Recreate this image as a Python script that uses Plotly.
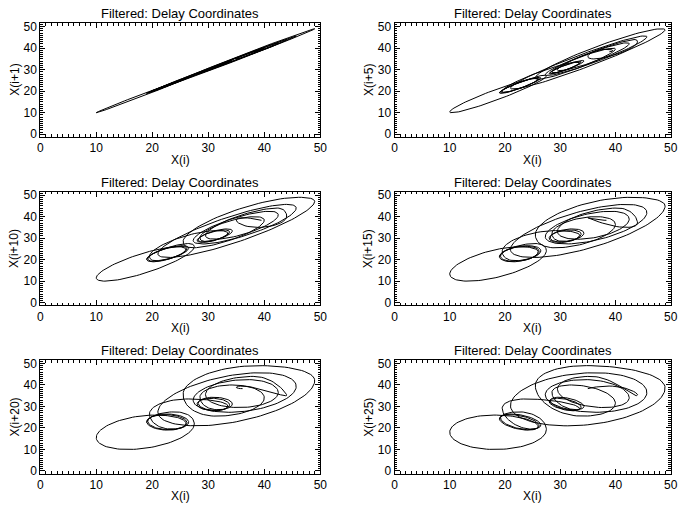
import numpy as np
import plotly.graph_objects as go

# Turning points (sample index, value) of the filtered series x(i), read from the loops
turn_t = [0, 45, 97, 147, 185, 223, 261, 299, 337, 377, 413, 451, 489, 527, 565, 605,
          650, 694, 754, 813, 863, 911, 953, 998, 1020, 1035, 1045]
turn_v = [19.0, 27.5, 10.0, 26.0, 19.0, 26.2, 19.2, 26.5, 19.5, 33.5, 28.0, 33.8, 28.2,
          34.3, 28.5, 40.0, 25.5, 49.0, 21.0, 45.7, 27.3, 42.5, 29.5, 44.0, 35.0, 39.5,
          38.3]

lags = [1, 5, 10, 15, 20, 25]
y_titles = ["X(i+1)", "X(i+5)", "X(i+10)", "X(i+15)", "X(i+20)", "X(i+25)"]
x_title = "X(i)"
panel_title = "Filtered: Delay Coordinates"
x_ticks = [0, 10, 20, 30, 40, 50]

# smooth series built from turning points (half-cosine swings)
n = turn_t[-1] + 1
series = np.empty(n)
for k in range(len(turn_t) - 1):
    t0, t1 = turn_t[k], turn_t[k + 1]
    v0, v1 = turn_v[k], turn_v[k + 1]
    s = (np.arange(t0, t1 + 1) - t0) / (t1 - t0)
    series[t0:t1 + 1] = v0 + (v1 - v0) * (1 - np.cos(np.pi * s)) / 2

W, H = 686, 513
col_px = [(37.8, 322.0), (397.3, 677.5)]
row_px = [(20.5, 136.0), (191.7, 307.0), (362.7, 478.0)]

fig = go.Figure()
font = dict(family="Liberation Sans, Arial, sans-serif", size=12, color="black")
annotations = []
for p, lag in enumerate(lags):
    r, c = divmod(p, 2)
    xa = "xaxis" if p == 0 else f"xaxis{p+1}"
    ya = "yaxis" if p == 0 else f"yaxis{p+1}"
    xr = "x" if p == 0 else f"x{p+1}"
    yr = "y" if p == 0 else f"y{p+1}"
    fig.add_trace(go.Scatter(x=series[:-lag], y=series[lag:], mode="lines",
                             line=dict(color="black", width=1), xaxis=xr, yaxis=yr,
                             showlegend=False, hoverinfo="skip"))
    xd = [col_px[c][0] / W, col_px[c][1] / W]
    yd = [1 - row_px[r][1] / H, 1 - row_px[r][0] / H]
    common = dict(showline=True, linecolor="black", linewidth=1, mirror="allticks",
                  ticks="inside", ticklen=5, tickwidth=1, tickcolor="black",
                  showgrid=False, zeroline=False, tickfont=font,
                  minor=dict(ticks="inside", dtick=1, ticklen=2.5, tickwidth=1,
                             tickcolor="black", showgrid=False))
    fig.layout[xa] = dict(domain=xd, range=[0, 50], tickvals=x_ticks, anchor=yr, **common)
    fig.layout[ya] = dict(domain=yd, range=[-1.2, 51.6], tickvals=x_ticks, anchor=xr, **common)
    cx = (col_px[c][0] + col_px[c][1]) / 2 / W
    annotations.append(dict(text=panel_title, x=cx, y=1 - (row_px[r][0] - 9.5) / H,
                            xref="paper", yref="paper", showarrow=False,
                            font=dict(family=font["family"], size=13, color="black"),
                            xanchor="center", yanchor="middle"))
    annotations.append(dict(text=x_title, x=cx, y=1 - (row_px[r][1] + 23) / H,
                            xref="paper", yref="paper", showarrow=False, font=font,
                            xanchor="center", yanchor="middle"))
    annotations.append(dict(text=y_titles[p], x=(col_px[c][0] - 26) / W,
                            y=1 - (row_px[r][0] + row_px[r][1]) / 2 / H,
                            xref="paper", yref="paper", showarrow=False, font=font,
                            textangle=-90, xanchor="center", yanchor="middle"))

fig.update_layout(width=W, height=H, margin=dict(l=0, r=0, t=0, b=0),
                  paper_bgcolor="white", plot_bgcolor="white",
                  annotations=annotations, showlegend=False)
fig.write_html("out.html")
